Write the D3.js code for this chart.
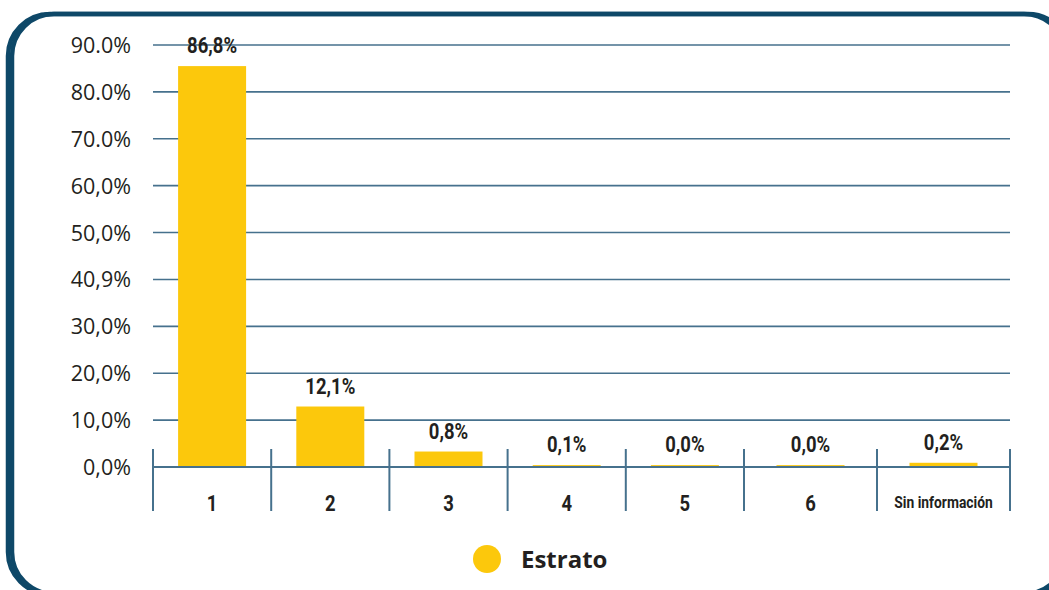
<!DOCTYPE html>
<html lang="es">
<head>
    <meta charset="utf-8">
    <title>Estrato</title>
    <script src="https://d3js.org/d3.v7.min.js" charset="utf-8"></script>
    <style>
        body { margin: 0; background: #fff; }
    </style>
</head>
<body>

    <script>

    // categories and values
    var categories = ["1", "2", "3", "4", "5", "6", "Sin información"]
    // drawn bar heights (%), as they appear in the picture
    var barHeights = [85.5, 12.9, 3.3, 0.4, 0.4, 0.4, 0.9]
    // printed value labels
    var valueLabels = ["86,8%", "12,1%", "0,8%", "0,1%", "0,0%", "0,0%", "0,2%"]
    var yTicks = [0, 10, 20, 30, 40, 50, 60, 70, 80, 90]
    var yTickLabels = ["0,0%", "10,0%", "20,0%", "30,0%", "40,9%", "50,0%", "60,0%", "70.0%", "80.0%", "90.0%"]
    var legendLabel = "Estrato"

    var w = 1049
    var h = 590
    var barColor = "#fcc80c"
    var lineColor = "#46718d"
    var frameColor = "#0e4868"
    var condensed = "Roboto, sans-serif"
    var squeeze = 0.84

    var svg = d3.select("body").append("svg").attr("width", w).attr("height", h)

    // frame (two offset outlines make the left side heavier)
    svg.append("g").selectAll("rect").data([8, 12]).join("rect")
        .attr("x", function (d) { return d }).attr("y", 14)
        .attr("width", 1058).attr("height", 580).attr("rx", 42)
        .attr("fill", "none").attr("stroke", frameColor).attr("stroke-width", 4.5)

    var yScale = d3.scaleLinear().domain([0, 90]).range([467, 45])

    // band edges: last two columns are wider in the original
    var xEdge = d3.scaleLinear().domain([0, 5, 7]).range([153, 744, 1010])
    var xMid = function (i) { return xEdge(i + 0.5) }
    var barW = 68

    // gridlines
    svg.append("g").selectAll("line").data(yTicks.slice(1)).join("line")
        .attr("x1", 153).attr("x2", 1010)
        .attr("y1", function (d) { return yScale(d) }).attr("y2", function (d) { return yScale(d) })
        .attr("stroke", lineColor).attr("stroke-width", 1.6)

    // y labels
    svg.append("g").selectAll("text").data(yTicks).join("text")
        .attr("x", 131).attr("y", function (d) { return yScale(d) + 8 })
        .attr("text-anchor", "end").attr("font-family", "'Open Sans', sans-serif")
        .attr("font-size", 21.5).attr("fill", "#231f20")
        .text(function (d, i) { return yTickLabels[i] })

    // bars
    svg.append("g").selectAll("rect").data(barHeights).join("rect")
        .attr("x", function (d, i) { return xMid(i) - barW / 2 })
        .attr("y", function (d) { return yScale(d) })
        .attr("width", barW)
        .attr("height", function (d) { return yScale(0) - yScale(d) })
        .attr("fill", barColor)

    // baseline and separators
    svg.append("line").attr("x1", 153).attr("x2", 1010).attr("y1", yScale(0)).attr("y2", yScale(0))
        .attr("stroke", lineColor).attr("stroke-width", 2)
    svg.append("g").selectAll("line").data(d3.range(categories.length + 1)).join("line")
        .attr("x1", function (d) { return xEdge(d) }).attr("x2", function (d) { return xEdge(d) })
        .attr("y1", 449).attr("y2", 511)
        .attr("stroke", lineColor).attr("stroke-width", 2)

    // value labels
    svg.append("g").selectAll("text").data(barHeights).join("text")
        .attr("transform", function (d, i) {
            return "translate(" + xMid(i) + "," + (yScale(d) - 13) + ") scale(" + squeeze + ",1)"
        })
        .attr("text-anchor", "middle").attr("font-family", condensed).attr("font-weight", "bold")
        .attr("font-size", 22).attr("fill", "#231f20")
        .text(function (d, i) { return valueLabels[i] })

    // category labels
    svg.append("g").selectAll("text").data(categories).join("text")
        .attr("transform", function (d, i) {
            return "translate(" + xMid(i) + "," + (d.length > 3 ? 508 : 511) + ") scale(" + squeeze + ",1)"
        })
        .attr("text-anchor", "middle").attr("font-family", condensed).attr("font-weight", "bold")
        .attr("font-size", function (d) { return d.length > 3 ? 16.5 : 22 })
        .attr("fill", "#231f20")
        .text(function (d) { return d })

    // legend
    svg.append("circle").attr("cx", 487).attr("cy", 559).attr("r", 14).attr("fill", barColor)
    svg.append("text").attr("x", 521).attr("y", 567.5)
        .attr("font-family", "'Open Sans', sans-serif").attr("font-weight", "bold")
        .attr("font-size", 24).attr("fill", "#231f20")
        .text(legendLabel)

    </script>

</body>
</html>
